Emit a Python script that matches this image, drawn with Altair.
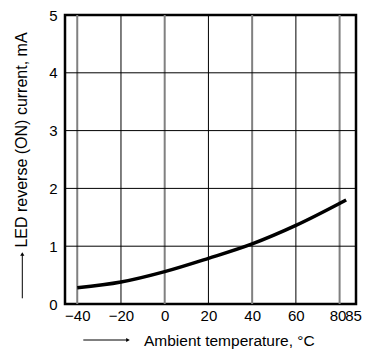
import altair as alt
import pandas as pd

# Curve data
temps = [-40, -20, 0, 20, 40, 60, 83]
current = [0.28, 0.38, 0.56, 0.79, 1.04, 1.36, 1.80]

x_ticks = [-40, -20, 0, 20, 40, 60, 80, 85]
y_ticks = [0, 1, 2, 3, 4, 5]
grey_grid = [-40, 0, 40, 80]
black_grid = [-20, 20, 60]
h_grid = [1, 2, 3, 4]

FONT = "Liberation Sans"
W, H = 291, 289
XDOM = [-45.6, 87.5]
YDOM = [0, 5]

df = pd.DataFrame({"t": temps, "i": current})
xs = alt.Scale(domain=XDOM, nice=False, zero=False)
ys = alt.Scale(domain=YDOM, nice=False)

xaxis = alt.Axis(values=x_ticks, title=None, grid=False, ticks=False, domain=False,
                 labelFontSize=15, labelFont=FONT, labelColor="black", labelPadding=4,
                 labelOverlap=False, labelBound=False, labelFlush=False,
                 labelOffset=alt.ExprRef("datum.value == 80 ? -2 : (datum.value == 85 ? 2.5 : 0)"))
yaxis = alt.Axis(values=y_ticks, title=None, grid=False, ticks=False, domain=False,
                 labelFontSize=15, labelFont=FONT, labelColor="black", labelPadding=8)

one = pd.DataFrame({"a": [0]})

grey = alt.Chart(pd.DataFrame({"g": grey_grid})).mark_rule(color="#808080", strokeWidth=2).encode(
    x=alt.X("g:Q", scale=xs, axis=xaxis))
black = alt.Chart(pd.DataFrame({"g": black_grid})).mark_rule(color="black", strokeWidth=1).encode(
    x=alt.X("g:Q", scale=xs, axis=xaxis))
hor = alt.Chart(pd.DataFrame({"h": h_grid})).mark_rule(color="black", strokeWidth=1).encode(
    y=alt.Y("h:Q", scale=ys, axis=yaxis))

curve = alt.Chart(df).mark_line(color="black", strokeWidth=3.5, interpolate="monotone").encode(
    x=alt.X("t:Q", scale=xs, axis=xaxis),
    y=alt.Y("i:Q", scale=ys, axis=yaxis),
)

ytitle = alt.Chart(one).mark_text(text="LED reverse (ON) current, mA", angle=270, font=FONT,
                                  fontSize=16, align="center", baseline="middle", color="black").encode(
    x=alt.value(-43), y=alt.value(125))
xtitle = alt.Chart(one).mark_text(text="Ambient temperature, °C", font=FONT, fontSize=15.5,
                                  align="left", baseline="alphabetic", color="black").encode(
    x=alt.value(79), y=alt.value(330.5))

yarrow = alt.Chart(one).mark_rule(color="black", strokeWidth=1).encode(
    x=alt.value(-42.7), y=alt.value(240), y2=alt.value(283.3))
yhead = alt.Chart(one).mark_point(shape="triangle-up", filled=True, color="black", size=18, opacity=1).encode(
    x=alt.value(-42.7), y=alt.value(239))
xarrow = alt.Chart(one).mark_rule(color="black", strokeWidth=1).encode(
    x=alt.value(18.3), x2=alt.value(62), y=alt.value(325))
xhead = alt.Chart(one).mark_point(shape="triangle-right", filled=True, color="black", size=18, opacity=1).encode(
    x=alt.value(63), y=alt.value(325))

chart = alt.layer(grey, black, hor, curve, ytitle, xtitle, yarrow, yhead, xarrow, xhead).properties(
    width=W, height=H,
    autosize=alt.AutoSizeParams(type="none"),
    padding={"left": 57, "top": 7, "right": 13, "bottom": 45},
    background="white",
).configure_view(stroke="black", strokeWidth=2.5)

chart.save("out.html", embed_options={"renderer": "svg", "actions": False})
